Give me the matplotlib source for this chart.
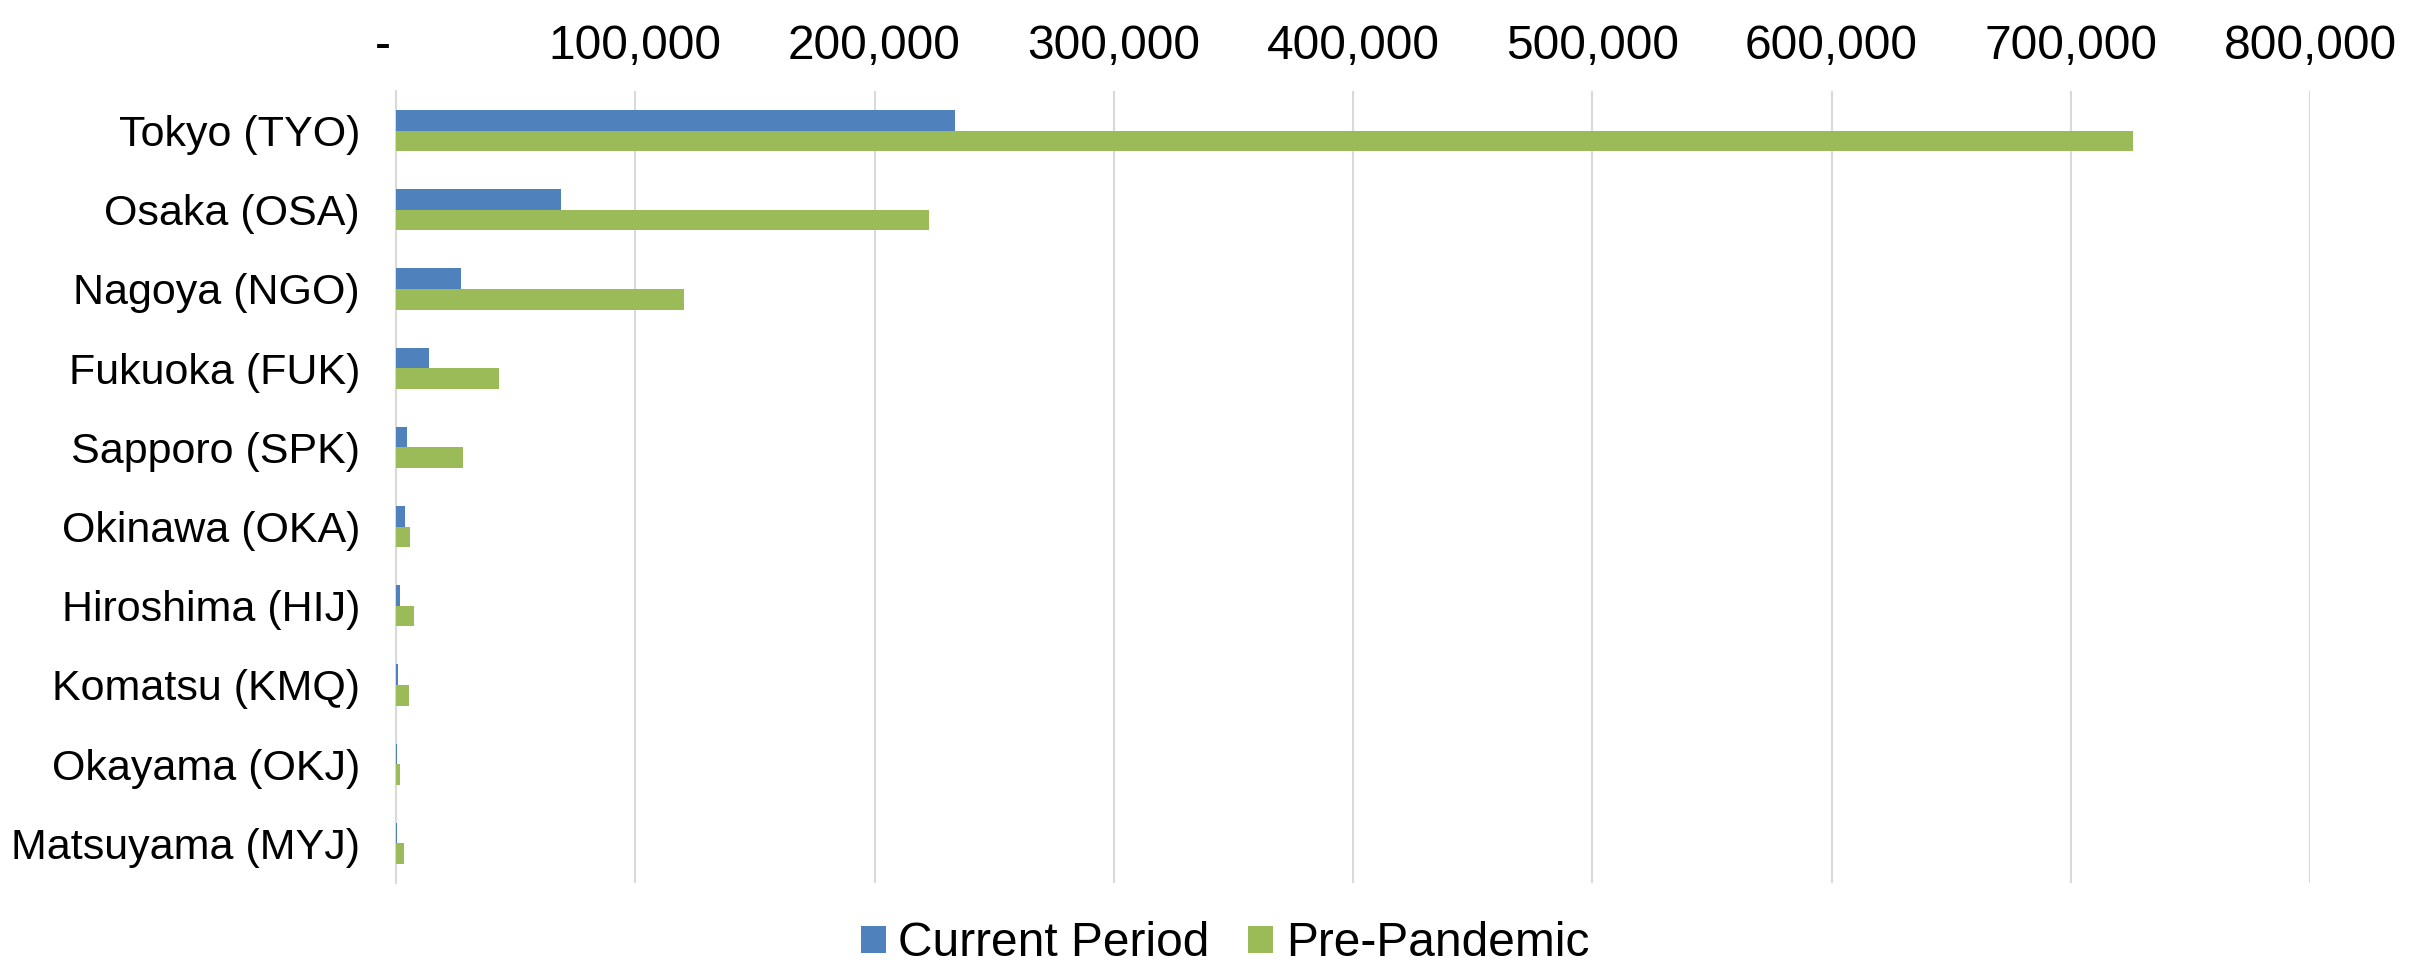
import matplotlib
matplotlib.use("Agg")
import matplotlib.pyplot as plt
import numpy as np
from matplotlib.ticker import FuncFormatter, MultipleLocator

plt.rcParams['font.family'] = ['Liberation Sans', 'DejaVu Sans']

categories = ["Tokyo (TYO)", "Osaka (OSA)", "Nagoya (NGO)", "Fukuoka (FUK)", "Sapporo (SPK)",
              "Okinawa (OKA)", "Hiroshima (HIJ)", "Komatsu (KMQ)", "Okayama (OKJ)", "Matsuyama (MYJ)"]
current_period = [233500, 69000, 27000, 13700, 4700, 3600, 1800, 1000, 500, 300]
pre_pandemic = [726000, 222700, 120500, 43000, 27900, 5900, 7400, 5600, 1800, 3200]
series_names = ["Current Period", "Pre-Pandemic"]
colors = ["#4F81BD", "#9BBB59"]

fig = plt.figure(figsize=(24.28, 9.67), dpi=100)
ax = fig.add_axes([396/2428, 1-883/967, (2310-396)/2428, (883-91)/967])

y = np.arange(len(categories))
h = 0.26
ax.barh(y - h/2, current_period, height=h, color=colors[0], label=series_names[0], zorder=3)
ax.barh(y + h/2, pre_pandemic, height=h, color=colors[1], label=series_names[1], zorder=3)

ax.set_ylim(len(categories) - 0.5, -0.5)
ax.set_yticks(y)
ax.set_yticklabels(categories)
ax.set_xlim(0, 800000)
ax.xaxis.set_major_locator(MultipleLocator(100000))
ax.xaxis.set_major_formatter(FuncFormatter(lambda v, p: "-  " if v == 0 else f"{int(v):,}"))
ax.xaxis.tick_top()
ax.tick_params(axis='both', length=0, colors='black')
ax.tick_params(axis='x', pad=16, labelsize=34.5)
ax.tick_params(axis='y', pad=26, labelsize=31)
ax.grid(axis='x', color='#D9D9D9', linewidth=1.5, zorder=0)
for s in ['top', 'right', 'bottom']:
    ax.spines[s].set_visible(False)
ax.spines['left'].set_color('#D9D9D9')
ax.spines['left'].set_linewidth(1.5)

fig.legend(loc='center', bbox_to_anchor=(1225/2428, 1-944/967), ncol=2, frameon=False,
           fontsize=34.5, handlelength=0.52, handleheight=0.52, handletextpad=0.27, columnspacing=0.8)

fig.savefig("out.png", dpi=100, facecolor='white')
